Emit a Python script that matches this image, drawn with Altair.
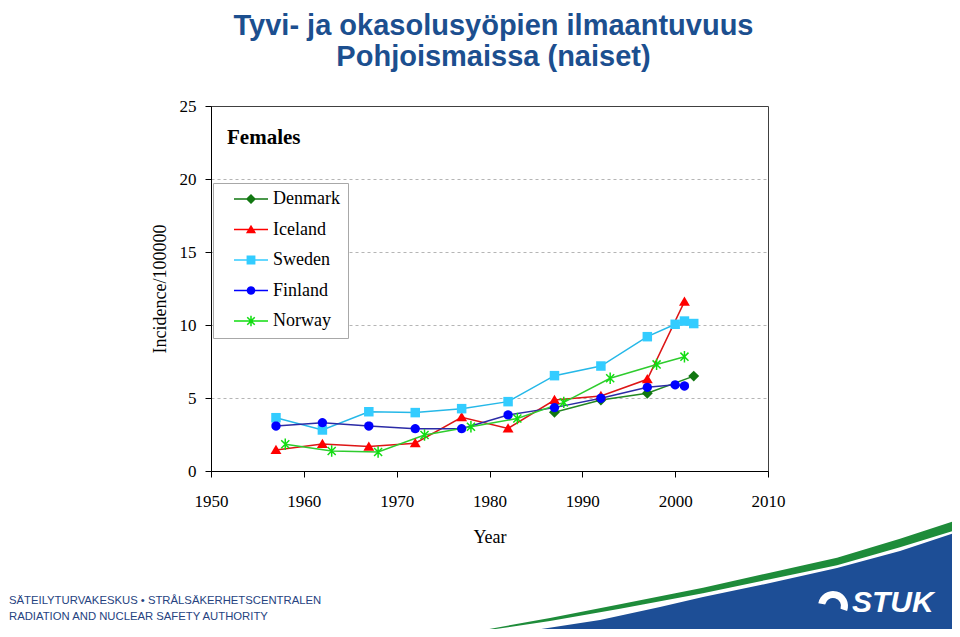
import math
import altair as alt
import pandas as pd

# ---------------- data ----------------
countries = ["Denmark", "Iceland", "Sweden", "Finland", "Norway"]

denmark_years = [1987, 1992, 1997, 2002]
denmark_values = [4.02, 4.86, 5.32, 6.5]

iceland_years = [1957, 1962, 1967, 1972, 1977, 1982, 1987, 1992, 1997, 2001]
iceland_values = [1.44, 1.85, 1.67, 1.9, 3.68, 2.92, 4.86, 5.14, 6.28, 11.6]

sweden_years = [1957, 1962, 1967, 1972, 1977, 1982, 1987, 1992, 1997, 2000, 2001, 2002]
sweden_values = [3.65, 2.81, 4.06, 4.0, 4.27, 4.75, 6.53, 7.19, 9.2, 10.05, 10.27, 10.1]

finland_years = [1957, 1962, 1967, 1972, 1977, 1982, 1987, 1992, 1997, 2000, 2001]
finland_values = [3.08, 3.31, 3.08, 2.9, 2.9, 3.84, 4.34, 4.98, 5.73, 5.9, 5.82]

norway_years = [1958, 1963, 1968, 1973, 1978, 1983, 1988, 1993, 1998, 2001]
norway_values = [1.83, 1.37, 1.3, 2.47, 3.03, 3.6, 4.7, 6.35, 7.3, 7.83]

x_ticks = [1950, 1960, 1970, 1980, 1990, 2000, 2010]
y_ticks = [0, 5, 10, 15, 20, 25]

title_lines = ["Tyvi- ja okasolusyöpien ilmaantuvuus", "Pohjoismaissa (naiset)"]
panel_label = "Females"
footer_lines = ["SÄTEILYTURVAKESKUS • STRÅLSÄKERHETSCENTRALEN",
                "RADIATION AND NUCLEAR SAFETY AUTHORITY"]
logo_text = "STUK"

# ---------------- styles ----------------
line_colors = ["#228822", "#dd1515", "#25b8e8", "#2b2ba6", "#2ecc2e"]
marker_colors = ["#117711", "#ff0000", "#33ccff", "#0000ff", "#11dd11"]
TITLE_BLUE = "#1c4f8f"
FOOT_BLUE = "#26437f"
LOGO_BLUE = "#1d4e96"
LOGO_GREEN = "#1e8c3a"

PLOT_LEFT, PLOT_TOP = 211, 106          # page position of plot origin
W, H = 557, 365
PAD_L, PAD_T = PLOT_LEFT - 8, PLOT_TOP - 8
PAD_R, PAD_B = 944 - PAD_L - W, 621 - PAD_T - H

# decorative footer swoosh (page pixel outline)
green_x = [480, 550, 620, 703, 770, 837, 900, 960]
green_top = [630.7, 618.0, 604.2, 587.7, 572.7, 557.7, 538.7, 519.2]
green_bot = [631.3, 621.0, 608.8, 593.2, 579.2, 565.2, 547.2, 528.8]
blue_x = [525, 600, 660, 703, 770, 837, 900, 960]
blue_top = [631.5, 620.0, 607.0, 597.0, 583.0, 568.0, 551.0, 531.0]
blue_bot = [640, 640, 640, 640, 640, 640, 640, 640]


def poly(pts):
    return "M" + "L".join(f"{x:.3f},{y:.3f}" for x, y in pts) + "Z"


def marker_paths(s, t):
    diamond = poly([(0, -1.15 * s), (1.15 * s, 0), (0, 1.15 * s), (-1.15 * s, 0)])
    triangle = poly([(0, -1.1 * s), (1.15 * s, 0.85 * s), (-1.15 * s, 0.85 * s)])
    square = poly([(-s, -s), (s, -s), (s, s), (-s, s)])
    circle = poly([(0.98 * s * math.cos(2 * math.pi * k / 20),
                    0.98 * s * math.sin(2 * math.pi * k / 20)) for k in range(20)])
    L = 1.2 * s
    d = L / math.sqrt(2)
    n = t / math.sqrt(2)
    vert = poly([(-t, -L), (t, -L), (t, L), (-t, L)])
    diag1 = poly([(-d - n, -d + n), (-d + n, -d - n), (d + n, d - n), (d - n, d + n)])
    diag2 = poly([(-d + n, d + n), (-d - n, d - n), (d - n, -d - n), (d + n, -d + n)])
    star = vert + diag1 + diag2
    return [diamond, triangle, square, circle, star]


chart_shapes = marker_paths(0.95, 0.15)          # size 100 -> factor 5 px
LEG_SIZE = 1156                                   # sqrt = 34 -> factor 17 px
leg_line = poly([(-1, -0.045), (1, -0.045), (1, 0.045), (-1, 0.045)])
legend_shapes = [leg_line + p for p in marker_paths(0.26, 0.045)]

# ---------------- tables ----------------
rows = []
for c, ys, vs in [("Denmark", denmark_years, denmark_values),
                  ("Iceland", iceland_years, iceland_values),
                  ("Sweden", sweden_years, sweden_values),
                  ("Finland", finland_years, finland_values),
                  ("Norway", norway_years, norway_values)]:
    for yr, v in zip(ys, vs):
        rows.append({"country": c, "year": yr, "value": v})
df = pd.DataFrame(rows)

green_df = pd.DataFrame({"px": [x - PLOT_LEFT for x in green_x],
                         "py": [y - PLOT_TOP for y in green_top],
                         "py2": [y - PLOT_TOP for y in green_bot]})
blue_df = pd.DataFrame({"px": [x - PLOT_LEFT for x in blue_x],
                        "py": [y - PLOT_TOP for y in blue_top],
                        "py2": [y - PLOT_TOP for y in blue_bot]})
one = pd.DataFrame({"k": [0]})

# ---------------- chart ----------------
x_enc = alt.X("year:Q",
              scale=alt.Scale(domain=[1950, 2010], nice=False, zero=False),
              axis=alt.Axis(values=x_ticks, format="d", title="Year", tickSize=6,
                            labelPadding=16, titlePadding=19, grid=False,
                            labelFlush=False))
y_enc = alt.Y("value:Q",
              scale=alt.Scale(domain=[0, 25], nice=False),
              axis=alt.Axis(values=y_ticks, title="Incidence/100000", tickSize=6,
                            labelPadding=9, titlePadding=10, grid=True,
                            gridDash=[3, 3], gridColor="#b5b5b5",
                            gridOpacity={"condition": {"test": "datum.value == 0 || datum.value == 25",
                                                       "value": 0}, "value": 1}))

lines = alt.Chart(df).mark_line(strokeWidth=1.5).encode(
    x=x_enc, y=y_enc,
    stroke=alt.Stroke("country:N", scale=alt.Scale(domain=countries, range=line_colors),
                      legend=None),
    detail="country:N",
)
points = alt.Chart(df).mark_point(filled=True, size=100, opacity=1, strokeWidth=0).encode(
    x=x_enc, y=y_enc,
    fill=alt.Fill("country:N", scale=alt.Scale(domain=countries, range=marker_colors),
                  legend=None),
    shape=alt.Shape("country:N", scale=alt.Scale(domain=countries, range=chart_shapes),
                    legend=None),
)
data_layer = alt.layer(lines, points)

leg = dict(title=None, orient="none", legendX=2, legendY=77, padding=8,
           strokeColor="#a8a8a8", fillColor="white", cornerRadius=0,
           labelFont="Liberation Serif", labelFontSize=18, labelColor="black",
           symbolSize=LEG_SIZE, symbolStrokeWidth=0, symbolOffset=13,
           labelOffset=5, clipHeight=16, rowPadding=12.5)
legend_layer = alt.Chart(pd.DataFrame({"country": countries})).transform_filter("false").mark_point(
    filled=True, size=LEG_SIZE, opacity=1, strokeWidth=0).encode(
    fill=alt.Fill("country:N", scale=alt.Scale(domain=countries, range=marker_colors),
                  legend=alt.Legend(**leg)),
    shape=alt.Shape("country:N", scale=alt.Scale(domain=countries, range=legend_shapes),
                    legend=alt.Legend(**leg)),
)

green_area = alt.Chart(green_df).mark_area(color=LOGO_GREEN).encode(
    x=alt.X("px:Q", scale=None, axis=None),
    y=alt.Y("py:Q", scale=None, axis=None),
    y2="py2:Q")
blue_area = alt.Chart(blue_df).mark_area(color=LOGO_BLUE).encode(
    x=alt.X("px:Q", scale=None, axis=None),
    y=alt.Y("py:Q", scale=None, axis=None),
    y2="py2:Q")

title_layer = alt.Chart(one).mark_text(
    text=title_lines, font="Liberation Sans", fontSize=29, fontWeight="bold",
    color=TITLE_BLUE, align="center", baseline="alphabetic", lineHeight=31,
).encode(x=alt.value(493.5 - PLOT_LEFT), y=alt.value(35 - PLOT_TOP))

panel_layer = alt.Chart(one).mark_text(
    text=panel_label, font="Liberation Serif", fontSize=21, fontWeight="bold",
    color="black", align="left", baseline="alphabetic",
).encode(x=alt.value(227 - PLOT_LEFT), y=alt.value(144 - PLOT_TOP))

footer_layer = alt.Chart(one).mark_text(
    text=footer_lines, font="Liberation Sans", fontSize=11.3, color=FOOT_BLUE,
    align="left", baseline="middle", lineHeight=16,
).encode(x=alt.value(9 - PLOT_LEFT), y=alt.value(601 - PLOT_TOP))

logo_arc = alt.Chart(one).mark_arc(
    innerRadius=8, outerRadius=15, theta=4.9, theta2=8.2, color="white",
).encode(x=alt.value(833 - PLOT_LEFT), y=alt.value(606 - PLOT_TOP))

logo_layer = alt.Chart(one).mark_text(
    text=logo_text, font="Liberation Sans", fontSize=30, fontWeight="bold",
    fontStyle="italic", color="white", align="left", baseline="middle",
).encode(x=alt.value(852 - PLOT_LEFT), y=alt.value(603 - PLOT_TOP))

chart = alt.layer(
    green_area, blue_area, data_layer, legend_layer, title_layer, panel_layer,
    footer_layer, logo_arc, logo_layer,
).resolve_scale(
    x="independent", y="independent", fill="independent", shape="independent",
).properties(
    width=W, height=H,
    autosize=alt.AutoSizeParams(type="none"),
    padding={"left": PAD_L, "top": PAD_T, "right": PAD_R, "bottom": PAD_B},
    background="white",
).configure_view(
    stroke="#404040", strokeWidth=1,
).configure_axis(
    domainColor="black", tickColor="black", domainWidth=1, tickWidth=1,
    labelFont="Liberation Serif", labelFontSize=17, labelColor="black",
    titleFont="Liberation Serif", titleFontSize=18, titleFontWeight="normal",
    titleColor="black",
)

chart.save("out.html", embed_options={"renderer": "svg", "actions": False})
